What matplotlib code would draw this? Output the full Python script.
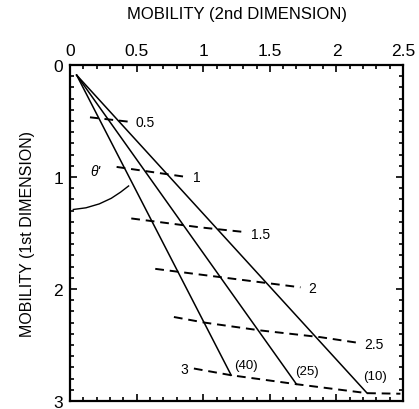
import matplotlib.pyplot as plt
import numpy as np
from matplotlib.ticker import MultipleLocator

plt.rcParams['font.family'] = ['Liberation Sans', 'DejaVu Sans']

# solid lines (retention series), all start near the origin
origin_x = 0.05
origin_y = 0.09
solid_labels = ["(10)", "(25)", "(40)"]
solid_end_x = [2.23, 1.70, 1.21]
solid_end_y = [2.93, 2.85, 2.77]
solid_label_x = [2.20, 1.69, 1.23]
solid_label_y = [2.775, 2.735, 2.675]

# dashed iso-mobility lines
dash_labels = ["0.5", "1", "1.5", "2", "2.5", "3"]
dash_x = [
    [0.15, 0.44],
    [0.35, 0.876],
    [0.46, 0.98, 1.30],
    [0.64, 1.73],
    [0.78, 1.01, 1.43, 1.88, 2.16],
    [0.93, 1.21, 1.70, 2.23, 2.48],
]
dash_y = [
    [0.467, 0.506],
    [0.91, 1.0],
    [1.37, 1.45, 1.49],
    [1.82, 1.985],
    [2.25, 2.30, 2.37, 2.43, 2.48],
    [2.71, 2.77, 2.85, 2.93, 2.935],
]
dash_label_x = [0.49, 0.92, 1.36, 1.79, 2.21, 0.89]
dash_label_y = [0.51, 1.0, 1.51, 1.99, 2.49, 2.71]

# angle arc
arc_x = [0.025, 0.12, 0.22, 0.31, 0.38, 0.44]
arc_y = [1.29, 1.275, 1.24, 1.19, 1.135, 1.08]

fig = plt.figure(figsize=(4.19, 4.10), dpi=100)
ax = fig.add_axes([0.167, 0.0195, 0.795, 0.8195])

for lab, ex, ey in zip(solid_labels, solid_end_x, solid_end_y):
    ax.plot([origin_x, ex], [origin_y, ey], color='black', lw=1.1)
for lab, lx, ly in zip(solid_labels, solid_label_x, solid_label_y):
    ax.text(lx, ly, lab, fontsize=9.5, ha='left', va='center')

for xs, ys in zip(dash_x, dash_y):
    ax.plot(xs, ys, color='black', lw=1.4, dashes=(4.5, 3.0))
for i, (lab, lx, ly) in enumerate(zip(dash_labels, dash_label_x, dash_label_y)):
    ha = 'right' if lab == "3" else 'left'
    ax.text(lx, ly, lab, fontsize=10, ha=ha, va='center')

ax.plot(arc_x, arc_y, color='black', lw=1.0)
ax.text(0.19, 0.95, "\u03b8'", fontsize=10, style='italic', ha='center', va='center')

ax.set_xlim(0, 2.5)
ax.set_ylim(3, 0)
ax.xaxis.set_major_locator(MultipleLocator(0.5))
ax.xaxis.set_minor_locator(MultipleLocator(0.1))
ax.yaxis.set_major_locator(MultipleLocator(1))
ax.yaxis.set_minor_locator(MultipleLocator(0.1))
ax.set_xticks([0, 0.5, 1, 1.5, 2, 2.5])
ax.set_xticklabels(["0", "0.5", "1", "1.5", "2", "2.5"])
ax.set_yticks([0, 1, 2, 3])
ax.set_yticklabels(["0", "1", "2", "3"])

ax.tick_params(which='both', direction='in', top=True, bottom=True, left=True, right=True,
               labeltop=True, labelbottom=False, width=1.2)
ax.tick_params(which='major', length=5, labelsize=12.5, pad=5)
ax.tick_params(which='minor', length=3)
for s in ax.spines.values():
    s.set_linewidth(1.6)

ax.xaxis.set_label_position('top')
ax.set_xlabel("MOBILITY (2nd DIMENSION)", fontsize=12, labelpad=18)
ax.set_ylabel("MOBILITY (1st DIMENSION)", fontsize=11.5, labelpad=13)

fig.savefig("out.png", dpi=100)
